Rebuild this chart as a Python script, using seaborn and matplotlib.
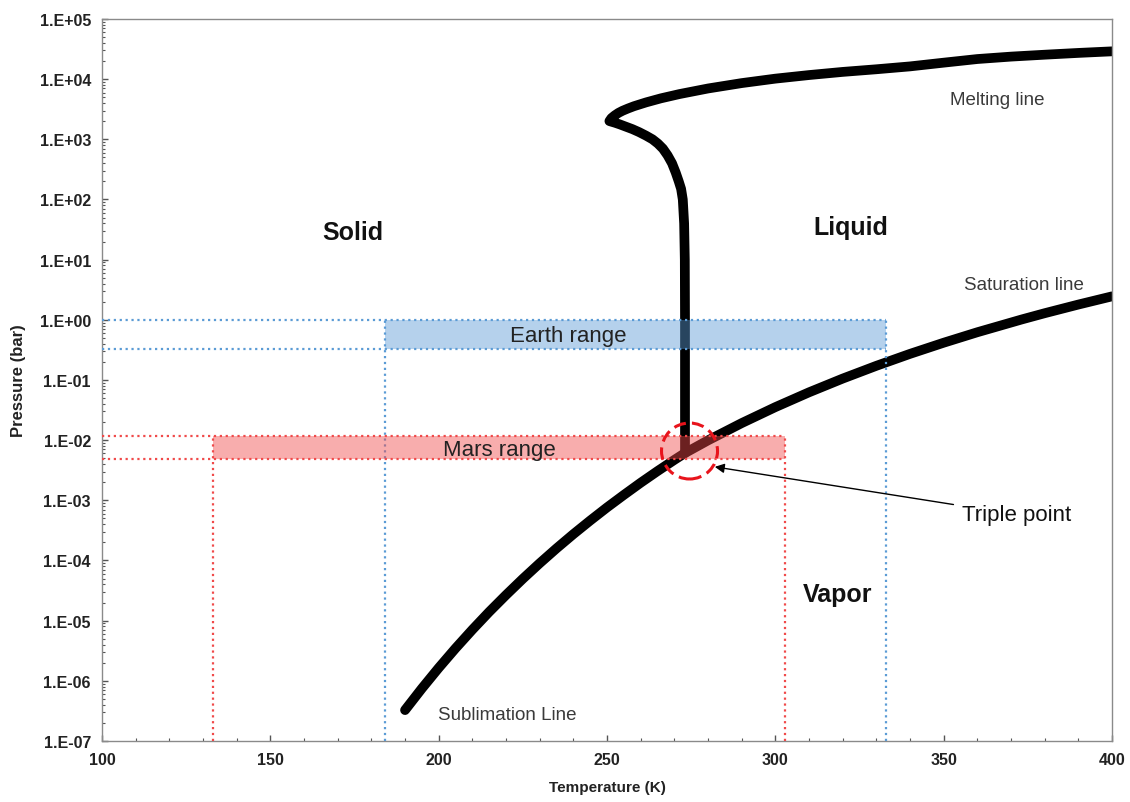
import numpy as np
import matplotlib
matplotlib.use("Agg")
import matplotlib.pyplot as plt
import matplotlib.ticker as mticker
from matplotlib.patches import Ellipse
import seaborn as sns

# phase boundaries of water
sub_T = [190, 195, 200, 205, 210, 215, 220, 225, 230, 235, 240, 245, 250, 255,
         260, 265, 270, 273.16]
sub_P = [3.26e-7, 7.46e-7, 1.64e-6, 3.47e-6, 7.08e-6, 1.40e-5, 2.67e-5, 4.97e-5,
         9.0e-5, 1.59e-4, 2.74e-4, 4.61e-4, 7.62e-4, 1.23e-3, 1.96e-3, 3.06e-3,
         4.70e-3, 6.11e-3]

sat_T = [273.16, 280, 290, 300, 310, 320, 330, 340, 350, 360, 373.15, 380, 390, 400]
sat_P = [6.11e-3, 9.92e-3, 0.0192, 0.0354, 0.0624, 0.1055, 0.172, 0.2718, 0.4163,
         0.6218, 1.013, 1.288, 1.794, 2.456]

melt_T = [273.16, 273.16, 273.1, 272.9, 272.5, 272.0, 271.3, 270.4, 269.3, 268.0,
          266.6, 265.1, 263.5, 261.6, 259.5, 257.5, 255.5, 253.8, 252.3, 251.2, 250.7,
          251.3, 252.3, 253.4, 254.6, 256.2, 258.0, 261.6, 266.0, 271.5, 280, 290,
          300, 310, 320, 330, 340, 350, 360, 370, 380, 390, 400]
melt_P = [6.11e-3, 1.0, 10, 40, 100, 150, 200, 280, 400, 540,
          700, 850, 1000, 1150, 1320, 1480, 1630, 1770, 1890, 1970, 2010,
          2250, 2500, 2750, 2980, 3250, 3550, 4110, 4800, 5650, 7000, 8600,
          10200, 11700, 13200, 14600, 16300, 18800, 21600, 23700, 25500, 27300, 29000]

# temperature / pressure ranges
earth_T = [184, 333]
earth_P = [0.33, 1.0]
mars_T = [133, 303]
mars_P = [0.0049, 0.0116]

triple_T = 274.5
triple_P = 0.0066

sns.set_theme(style="white")
plt.rcParams["font.family"] = ["Liberation Sans", "DejaVu Sans"]

fig = plt.figure(figsize=(11.3, 8.03), dpi=100)
ax = fig.add_axes([0.0903, 0.076, 0.8938, 0.8991])

vap_T = sub_T + sat_T[1:]
vap_P = sub_P + sat_P[1:]
sns.lineplot(x=vap_T, y=vap_P, sort=False, estimator=None, color="black", lw=7,
             solid_capstyle="round", ax=ax, zorder=2)
sns.lineplot(x=melt_T, y=melt_P, sort=False, estimator=None, color="black", lw=7,
             solid_capstyle="round", ax=ax, zorder=2)

ax.set_yscale("log")
ax.set_xlim(100, 400)
ax.set_ylim(1e-7, 1e5)

# Earth range
blue = "#5b9bd5"
ax.fill_between(earth_T, earth_P[0], earth_P[1], color=blue, alpha=0.45, lw=0, zorder=3)
ax.hlines(earth_P, 100, earth_T[1], colors=blue, linestyles=":", lw=1.6, zorder=3)
ax.vlines(earth_T, 1e-7, earth_P[1], colors=blue, linestyles=":", lw=1.6, zorder=3)

# Mars range
red = "#f04a4a"
ax.fill_between(mars_T, mars_P[0], mars_P[1], color=red, alpha=0.45, lw=0, zorder=3)
ax.hlines(mars_P, 100, mars_T[1], colors=red, linestyles=":", lw=1.6, zorder=3)
ax.vlines(mars_T, 1e-7, mars_P[1], colors=red, linestyles=":", lw=1.6, zorder=3)

# dashed circle around triple point
cx, cy = ax.transAxes.inverted().transform(ax.transData.transform((triple_T, triple_P)))
ax.add_patch(Ellipse((cx, cy), 56 / 1010, 56 / 722, transform=ax.transAxes, fill=False,
                     ec="#e8141c", lw=2.2, ls=(0, (4, 2)), zorder=4))

ax.annotate("Triple point", xy=(282, 0.0036), xytext=(355.5, 5.8e-4),
            fontsize=16, ha="left", va="center", color="#111111",
            arrowprops=dict(arrowstyle="-|>", color="black", lw=1,
                            shrinkA=4, shrinkB=0, mutation_scale=14))

bold = dict(fontsize=18, fontweight="bold", ha="center", va="center", color="#111111")
ax.text(174.5, 28.6, "Solid", **bold)
ax.text(322.3, 34.6, "Liquid", **bold)
ax.text(318.4, 2.8e-5, "Vapor", **bold)

lab = dict(fontsize=13.5, ha="center", va="center", color="#3a3a3a")
ax.text(365.9, 4670, "Melting line", **lab)
ax.text(373.9, 3.9, "Saturation line", **lab)
ax.text(220.5, 2.73e-7, "Sublimation Line", **lab)

ax.text(238.6, 0.55, "Earth range", fontsize=16, ha="center", va="center", color="#222222", zorder=5)
ax.text(218.1, 0.0070, "Mars range", fontsize=16, ha="center", va="center", color="#222222", zorder=5)

# axes styling
ax.xaxis.set_major_locator(mticker.MultipleLocator(50))
ax.xaxis.set_minor_locator(mticker.MultipleLocator(10))
ax.yaxis.set_major_locator(mticker.LogLocator(base=10, numticks=20))
ax.yaxis.set_minor_locator(mticker.LogLocator(base=10, subs=np.arange(2, 10), numticks=20))
ax.yaxis.set_major_formatter(mticker.FuncFormatter(lambda v, p: "1.E%+03d" % round(np.log10(v))))
ax.yaxis.set_minor_formatter(mticker.NullFormatter())

ax.tick_params(which="both", direction="in", colors="#555555", labelcolor="#222222",
               left=True, bottom=True, top=False, right=False)
ax.tick_params(which="major", length=4, width=1, labelsize=11.5, pad=8)
ax.tick_params(which="minor", length=2.5, width=0.8)
for t in ax.get_xticklabels() + ax.get_yticklabels():
    t.set_fontweight("bold")

for s in ax.spines.values():
    s.set_color("#8a8a8a")
    s.set_linewidth(1)

ax.set_xlabel("Temperature (K)", fontsize=11, fontweight="bold", color="#222222", labelpad=9)
ax.set_ylabel("Pressure (bar)", fontsize=12, fontweight="bold", color="#222222", labelpad=10)

fig.savefig("out.png", dpi=100, facecolor="white")
